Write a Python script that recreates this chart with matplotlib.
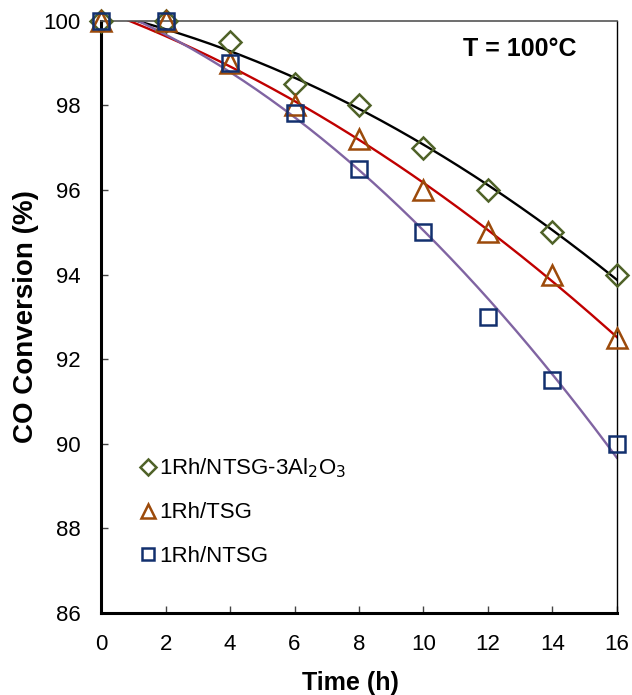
import numpy as np
import matplotlib
matplotlib.use('Agg')
import matplotlib.pyplot as plt

plt.rcParams['font.family'] = ['Liberation Sans', 'DejaVu Sans']

# time on stream (h)
time_h = [0, 2, 4, 6, 8, 10, 12, 14, 16]

# CO conversion (%)
conv_al2o3 = [100, 100, 99.5, 98.5, 98.0, 97.0, 96.0, 95.0, 94.0]
conv_tsg = [100, 100, 99.0, 98.0, 97.2, 96.0, 95.0, 94.0, 92.5]
conv_ntsg = [100, 100, 99.0, 97.83, 96.5, 95.0, 93.0, 91.5, 90.0]

labels = ['1Rh/NTSG-3Al$_2$O$_3$', '1Rh/TSG', '1Rh/NTSG']
markers = ['D', '^', 's']
mcolors = ['#4F6228', '#9C4A0A', '#12306E']
lcolors = ['#000000', '#C00000', '#8064A2']
msizes = [11.5, 15, 12]

fig = plt.figure(figsize=(6.32, 6.95), dpi=100)
ax = fig.add_axes([0.160, 0.118, 0.816, 0.852])

x = np.array(time_h, dtype=float)
xs = np.linspace(0, 16, 200)
handles = []
for y, lab, mk, mc, lc, ms in zip([conv_al2o3, conv_tsg, conv_ntsg], labels,
                                  markers, mcolors, lcolors, msizes):
    # 2nd order trendline, like the spreadsheet one
    coef = np.polyfit(x, np.array(y), 2)
    ax.plot(xs, np.polyval(coef, xs), '-', color=lc, lw=1.7, zorder=2)
    h, = ax.plot(x, y, mk, ms=ms, mfc='none', mec=mc, mew=1.8, zorder=3,
                 label=lab, clip_on=False)
    handles.append(h)

ax.set_xlim(0, 16)
ax.set_ylim(86, 100)
ax.set_xticks(np.arange(0, 17, 2))
ax.set_yticks(np.arange(86, 101, 2))
ax.tick_params(direction='in', length=5, width=1, color='#444444',
               labelsize=16, pad=15)

for s in ['left', 'bottom']:
    ax.spines[s].set_linewidth(2.2)
    ax.spines[s].set_color('black')
ax.spines['top'].set_linewidth(1.2)
ax.spines['top'].set_color('#555555')
ax.spines['right'].set_linewidth(1.0)
ax.spines['right'].set_color('black')

ax.set_xlabel('Time (h)', fontsize=18, fontweight='bold')
ax.xaxis.set_label_coords(0.483, -0.098)
ax.set_ylabel('CO Conversion (%)', fontsize=20, fontweight='bold')
ax.yaxis.set_label_coords(-0.12, 0.50)

ax.text(0.922, 0.972, 'T = 100°C', transform=ax.transAxes, ha='right',
        va='top', fontsize=18, fontweight='bold')

leg = ax.legend(handles=handles, loc='upper left', bbox_to_anchor=(0.061, 0.279),
                frameon=False, fontsize=16, handlelength=0.6, handletextpad=0.2,
                labelspacing=1.0, markerscale=0.7, borderaxespad=0)

fig.savefig('out.png', dpi=100)
